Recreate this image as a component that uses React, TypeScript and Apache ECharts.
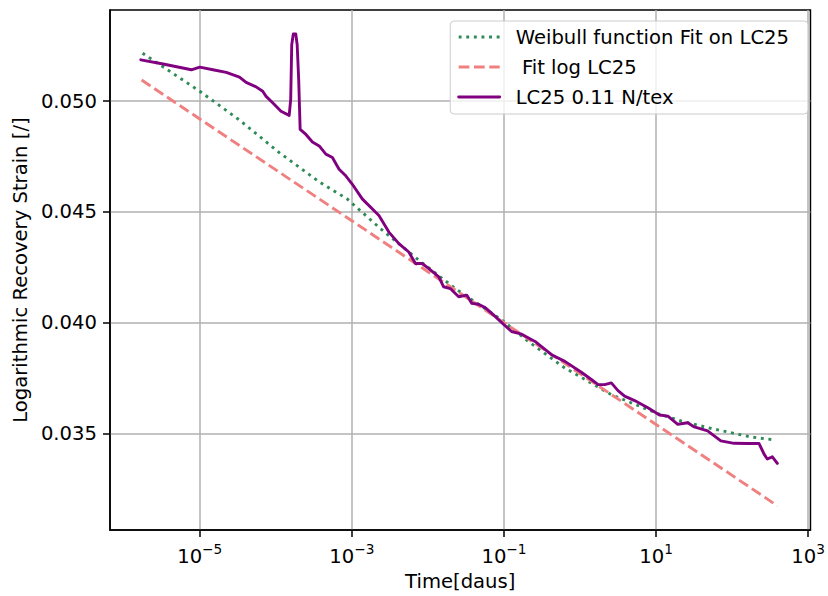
import React, { useEffect, useRef } from "react";
import * as echarts from "echarts";

// ---- data ----
const xTickExponents = [-5, -3, -1, 1, 3];
const yTickValues = [0.035, 0.04, 0.045, 0.05];

const seriesNames = ["Weibull function Fit on LC25", " Fit log LC25", "LC25 0.11 N/tex"];

// measured curve LC25 0.11 N/tex (time in days, strain)
const measuredTime = [
  1.68e-6, 3.3e-6, 7.76e-6, 1.0e-5, 1.49e-5, 2.23e-5, 3.33e-5, 4.07e-5, 5.51e-5, 6.73e-5,
  7.45e-5, 9.1e-5, 1.17e-4, 1.5e-4, 1.57e-4, 1.62e-4, 1.7e-4, 1.83e-4, 1.91e-4, 2.0e-4,
  2.09e-4, 2.49e-4, 3.03e-4, 3.72e-4, 4.55e-4, 5.55e-4, 6.79e-4, 8.32e-4, 1.01e-3, 1.37e-3,
  2.27e-3, 3.07e-3, 4.15e-3, 5.61e-3, 6.85e-3, 8.38e-3, 1.03e-2, 1.39e-2, 1.61e-2, 1.97e-2,
  2.54e-2, 3.25e-2, 3.78e-2, 4.62e-2, 5.66e-2, 7.28e-2, 9.84e-2, 0.126, 0.171, 0.256,
  0.422, 0.632, 1.04, 1.41, 1.73, 2.11, 2.58, 3.16, 3.86, 5.22,
  7.8, 11.1, 14.3, 19.3, 26.1, 31.8, 47.6, 71.1, 106, 159,
  226, 263, 290, 338, 393,
];
const measuredStrain = [
  0.05187, 0.05168, 0.05142, 0.05154, 0.05142, 0.0513, 0.05109, 0.05085, 0.05065, 0.05045,
  0.05022, 0.04993, 0.04955, 0.04936, 0.05008, 0.05255, 0.05304, 0.05304, 0.05255, 0.05097,
  0.04873, 0.0485, 0.04816, 0.04798, 0.04761, 0.04746, 0.04693, 0.04663, 0.04626, 0.04559,
  0.04484, 0.04409, 0.04357, 0.04319, 0.04267, 0.04267, 0.04244, 0.04207, 0.04162, 0.04154,
  0.04117, 0.04124, 0.04087, 0.04083, 0.04068, 0.04035, 0.03993, 0.0396, 0.03948, 0.03915,
  0.03855, 0.03825, 0.03776, 0.03743, 0.0372, 0.0372, 0.03728, 0.03693, 0.03668, 0.03648,
  0.03616, 0.03583, 0.03578, 0.03541, 0.03548, 0.03529, 0.03511, 0.03466, 0.03455, 0.03454,
  0.03454, 0.03406, 0.03384, 0.03394, 0.03364,
];

// Weibull function fit
const weibullTime = [
  1.77e-6, 1.0e-5, 3.33e-5, 1.11e-4, 3.72e-4, 8.65e-4, 2.39e-3, 7.59e-3, 2.29e-2, 9.35e-2,
  0.209, 0.632, 2.58, 4.71, 10.5, 21.3, 47.5, 96.2, 175, 345,
];
const weibullStrain = [
  0.05217, 0.05045, 0.04915, 0.04768, 0.04636, 0.04559, 0.04424, 0.04282, 0.04154, 0.04012,
  0.03915, 0.03795, 0.03675, 0.03638, 0.03589, 0.03556, 0.03526, 0.03503, 0.03484, 0.03471,
];

// logarithmic fit
const logFitTime = [1.72e-6, 1e-5, 1e-4, 1e-3, 1e-2, 1e-1, 1, 10, 100, 393];
const logFitStrain = [0.05096, 0.0492, 0.0469, 0.0446, 0.0423, 0.04, 0.0377, 0.0354, 0.0331, 0.03173];

const FONT = "DejaVu Sans";
const FS = 19.6;

function toPairs(t: number[], v: number[]) {
  return t.map((ti, i) => [Math.log10(ti), v[i]]);
}

export default function App() {
  const ref = useRef<HTMLDivElement>(null);
  useEffect(() => {
    if (!ref.current) return;
    const chart = echarts.init(ref.current, undefined, { renderer: "svg" });
    const sup = (n: number) => (n < 0 ? "\u2212" + Math.abs(n) : String(n));
    chart.setOption({
      animation: false,
      backgroundColor: "#ffffff",
      textStyle: { fontFamily: FONT },
      grid: {
        left: 110,
        right: 16,
        top: 10,
        bottom: 63,
        show: true,
        borderColor: "#000000",
        borderWidth: 1.5,
        backgroundColor: "transparent",
      },
      legend: {
        orient: "vertical",
        right: 20,
        top: 21,
        padding: [5, 19, 6, 7],
        itemWidth: 41,
        itemHeight: 14,
        itemGap: 8,
        backgroundColor: "rgba(255,255,255,0.8)",
        borderColor: "#cccccc",
        borderWidth: 1,
        borderRadius: 4,
        itemStyle: { opacity: 0 },
        lineStyle: { width: 2.9 },
        textStyle: {
          fontFamily: FONT,
          fontSize: FS,
          color: "#000000",
          lineHeight: 22,
          padding: [0, 0, 0, 11],
        },
        data: seriesNames,
      },
      xAxis: {
        type: "value",
        min: -6.18,
        max: 3.03,
        name: "Time[daus]",
        nameLocation: "middle",
        nameGap: 36,
        nameTextStyle: { fontFamily: FONT, fontSize: FS, color: "#000000" },
        axisLine: { show: true, onZero: false, lineStyle: { color: "#000000", width: 1.5 } },
        axisTick: {
          show: true,
          inside: false,
          length: 7,
          customValues: xTickExponents,
          lineStyle: { color: "#000000", width: 1.5 },
        },
        axisLabel: {
          customValues: xTickExponents,
          margin: 12,
          formatter: (v: number) => `{b|10}{s|${sup(v)}}`,
          rich: {
            b: { fontFamily: FONT, fontSize: FS, color: "#000000", lineHeight: 24, verticalAlign: "bottom" },
            s: { fontFamily: FONT, fontSize: 13.7, color: "#000000", lineHeight: 16, verticalAlign: "top" },
          },
        },
        splitLine: { show: true, lineStyle: { color: "#b0b0b0", width: 1.5 } },
      },
      yAxis: {
        type: "value",
        min: 0.03063,
        max: 0.05412,
        name: "Logarithmic Recovery Strain [/]",
        nameLocation: "middle",
        nameGap: 79,
        nameTextStyle: { fontFamily: FONT, fontSize: FS, color: "#000000" },
        axisLine: { show: true, onZero: false, lineStyle: { color: "#000000", width: 1.5 } },
        axisTick: {
          show: true,
          inside: false,
          length: 7,
          customValues: yTickValues,
          lineStyle: { color: "#000000", width: 1.5 },
        },
        axisLabel: {
          customValues: yTickValues,
          margin: 13,
          fontFamily: FONT,
          fontSize: FS,
          color: "#000000",
          formatter: (v: number) => v.toFixed(3),
        },
        splitLine: { show: true, lineStyle: { color: "#b0b0b0", width: 1.5 } },
      },
      series: [
        {
          name: seriesNames[0],
          type: "line",
          data: toPairs(weibullTime, weibullStrain),
          showSymbol: false,
          symbol: "none",
          smooth: false,
          lineStyle: { color: "#2e8b57", width: 2.9, type: [2.9, 4.7], cap: "butt" },
          itemStyle: { color: "#2e8b57" },
          z: 2,
        },
        {
          name: seriesNames[1],
          type: "line",
          data: toPairs(logFitTime, logFitStrain),
          showSymbol: false,
          symbol: "none",
          smooth: false,
          lineStyle: { color: "#f08080", width: 2.9, type: [10.7, 4.6], cap: "butt" },
          itemStyle: { color: "#f08080" },
          z: 3,
        },
        {
          name: seriesNames[2],
          type: "line",
          data: toPairs(measuredTime, measuredStrain),
          showSymbol: false,
          symbol: "none",
          smooth: false,
          lineStyle: { color: "#800080", width: 2.9, join: "round", cap: "round" },
          itemStyle: { color: "#800080" },
          z: 4,
        },
      ],
    });
    return () => chart.dispose();
  }, []);
  return (
    <div
      ref={ref}
      style={{ position: "absolute", left: 0, top: 0, width: 828, height: 596 }}
    />
  );
}
